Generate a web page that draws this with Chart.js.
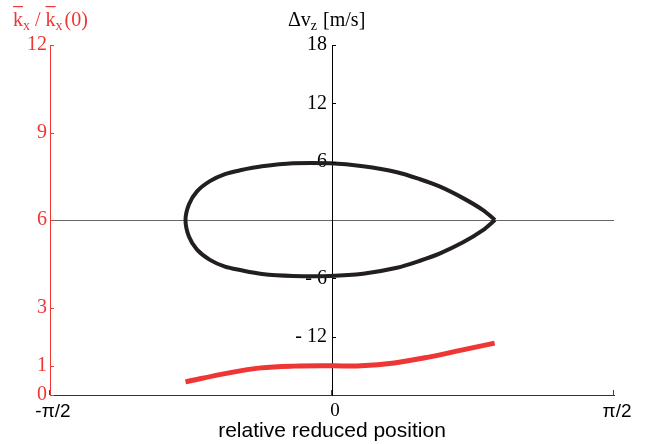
<!DOCTYPE html>
<html>
<head>
<meta charset="utf-8">
<script src="https://cdn.jsdelivr.net/npm/chart.js@4"></script>
<style>
  body { margin: 0; background: #fff; }
  #wrap { width: 650px; height: 444px; }
</style>
</head>
<body>
<div id="wrap"><canvas id="c" width="650" height="444"></canvas></div>
<script>
// valeurs
const xTickVals = [-Math.PI / 2, 0, Math.PI / 2];
const xTickLabels = ['-π/2', '0', 'π/2'];
const kTickVals = [0, 1, 3, 6, 9, 12];
const vTickVals = [-18, -12, -6, 0, 6, 12, 18];

// boucle noire : Δvz en fonction de la position (départ et arrivée à la pointe)
const loopPos = [0.908, 0.841, 0.730, 0.602, 0.490, 0.362, 0.173, -0.011, -0.217, -0.390, -0.512, -0.596, -0.680, -0.752, -0.797, -0.816,
                 -0.797, -0.752, -0.680, -0.596, -0.512, -0.390, -0.217, -0.011, 0.173, 0.362, 0.490, 0.602, 0.730, 0.841, 0.908];
const loopDv  = [0, 1.02, 2.25, 3.43, 4.19, 4.91, 5.52, 5.83, 5.83, 5.52, 5.11, 4.72, 4.0, 2.95, 1.6, 0,
                 -1.7, -3.05, -4.1, -4.8, -5.15, -5.55, -5.75, -5.75, -5.52, -4.91, -4.19, -3.43, -2.3, -1.05, 0];

// courbe rouge : kx / kx(0)
const redPos = [-0.816, -0.581, -0.397, -0.212, 0.006, 0.162, 0.347, 0.537, 0.721, 0.906];
const redK   = [0.45, 0.75, 0.93, 0.99, 1.0, 1.0, 1.1, 1.30, 1.54, 1.78];

const RED = '#f03535';
const SERIF = 'Liberation Serif';
const SANS = 'Liberation Sans';

const pts = (xs, ys) => xs.map((x, i) => ({ x: x, y: ys[i] }));

// petits traits de graduation tournés vers l'intérieur
const innerTicks = {
    id: 'innerTicks',
    afterDraw(chart) {
        const ctx = chart.ctx;
        const sx = chart.scales.x, sk = chart.scales.yk, sv = chart.scales.yv;
        const x0 = sx.getPixelForValue(0);
        ctx.save();
        ctx.lineWidth = 1;
        ctx.strokeStyle = RED;
        kTickVals.forEach(v => {
            const y = Math.round(sk.getPixelForValue(v)) + 0.5;
            ctx.beginPath(); ctx.moveTo(sk.right, y); ctx.lineTo(sk.right + 4, y); ctx.stroke();
        });
        ctx.strokeStyle = '#000';
        vTickVals.forEach(v => {
            if (v === 0 || v === -18) return;
            const y = Math.round(sv.getPixelForValue(v)) + 0.5;
            ctx.beginPath(); ctx.moveTo(x0, y); ctx.lineTo(x0 + 4, y); ctx.stroke();
        });
        ctx.strokeStyle = '#444';
        xTickVals.forEach(v => {
            const x = Math.round(sx.getPixelForValue(v)) - 0.5;
            ctx.beginPath(); ctx.moveTo(x, sx.top); ctx.lineTo(x, sx.top - 5); ctx.stroke();
        });
        ctx.restore();
    }
};

// titres du haut avec indices et barres
const topTitles = {
    id: 'topTitles',
    afterDraw(chart) {
        const ctx = chart.ctx;
        ctx.save();
        ctx.textBaseline = 'alphabetic';
        const big = '20px "' + SERIF + '"', small = '14px "' + SERIF + '"';
        const put = (txt, font, x, y) => { ctx.font = font; ctx.fillText(txt, x, y); return x + ctx.measureText(txt).width; };
        const bar = (x, w) => { ctx.fillRect(x, 6, w, 1.2); };

        ctx.fillStyle = RED;
        let x = 13, y = 26;
        ctx.font = big;
        const kw = ctx.measureText('k').width;
        bar(x, kw);
        x = put('k', big, x, y);
        x = put('x', small, x, y + 4);
        x = put(' / ', big, x, y);
        bar(x, kw);
        x = put('k', big, x, y);
        x = put('x', small, x, y + 4);
        put('(0)', big, x + 2, y);

        ctx.fillStyle = '#000';
        x = 288;
        x = put('Δv', big, x, y);
        x = put('z', small, x, y + 4);
        put(' [m/s]', big, x + 1, y);
        ctx.restore();
    }
};

new Chart(document.getElementById('c'), {
    type: 'scatter',
    data: {
        datasets: [
            {
                data: pts(loopPos, loopDv),
                yAxisID: 'yv',
                showLine: true,
                borderColor: '#231f20',
                borderWidth: 4,
                tension: 0.3,
                pointRadius: 0
            },
            {
                data: pts(redPos, redK),
                yAxisID: 'yk',
                showLine: true,
                borderColor: RED,
                borderWidth: 5,
                tension: 0.35,
                pointRadius: 0
            }
        ]
    },
    options: {
        responsive: false,
        animation: false,
        devicePixelRatio: 1,
        layout: { padding: { top: 45, right: 36, bottom: 0, left: 0 } },
        plugins: { legend: { display: false }, tooltip: { enabled: false } },
        scales: {
            x: {
                type: 'linear',
                position: 'bottom',
                min: -Math.PI / 2,
                max: Math.PI / 2,
                afterBuildTicks: a => { a.ticks = xTickVals.map(v => ({ value: v })); },
                afterFit: a => { a.height = 49; },
                ticks: {
                    color: '#000',
                    padding: 5,
                    labelOffset: 3,
                    maxRotation: 0,
                    font: c => ({ family: (c.tick && c.tick.value === 0) ? SERIF : SANS, size: 19 }),
                    callback: (v, i) => xTickLabels[i]
                },
                grid: { drawOnChartArea: false, drawTicks: false },
                border: { color: '#333', width: 1 },
                title: {
                    display: true,
                    text: 'relative reduced position',
                    color: '#000',
                    font: { family: SANS, size: 21 },
                    padding: { top: 0, bottom: 0 }
                }
            },
            yk: {
                type: 'linear',
                position: 'left',
                min: 0,
                max: 12,
                afterBuildTicks: a => { a.ticks = kTickVals.map(v => ({ value: v })); },
                afterFit: a => { a.width = 50; },
                ticks: { color: RED, padding: 3, font: { family: SERIF, size: 20 } },
                grid: { drawOnChartArea: false, drawTicks: false },
                border: { color: RED, width: 1 }
            },
            yv: {
                type: 'linear',
                position: { x: 0 },
                min: -18,
                max: 18,
                afterBuildTicks: a => { a.ticks = vTickVals.map(v => ({ value: v })); },
                ticks: {
                    color: '#000',
                    font: { family: SERIF, size: 20 },
                    callback: v => (v === 0 || v === -18) ? '' : (v < 0 ? '- ' + (-v) + ' ' : v + ' ')
                },
                grid: {
                    drawTicks: false,
                    color: c => (c.tick && c.tick.value === 0) ? '#666' : 'rgba(0,0,0,0)',
                    lineWidth: 1
                },
                border: { color: '#000', width: 1 }
            }
        }
    },
    plugins: [innerTicks, topTitles]
});
</script>
</body>
</html>
